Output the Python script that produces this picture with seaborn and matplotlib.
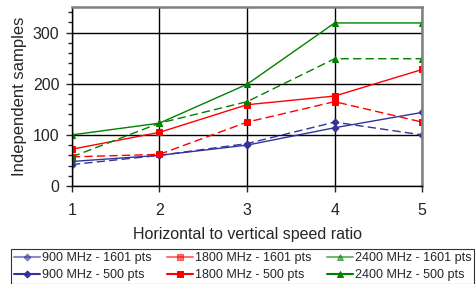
import matplotlib
matplotlib.use("Agg")
import matplotlib.pyplot as plt
import seaborn as sns
from matplotlib.ticker import MultipleLocator

sns.set_style("white")
plt.rcParams['font.family'] = ['Liberation Sans', 'DejaVu Sans']

# data
ratio = [1, 2, 3, 4, 5]
mhz900_1601 = [48, 60, 80, 114, 144]
mhz900_500 = [42, 60, 83, 125, 100]
mhz1800_1601 = [72, 105, 159, 176, 228]
mhz1800_500 = [57, 62, 125, 165, 125]
mhz2400_1601 = [100, 123, 199, 319, 319]
mhz2400_500 = [57, 123, 165, 249, 249]

series = [
    ("900 MHz - 1601 pts", mhz900_1601, "#333399", "D", "-", 3.5),
    ("900 MHz - 500 pts", mhz900_500, "#333399", "D", (0, (6, 3)), 3.5),
    ("1800 MHz - 1601 pts", mhz1800_1601, "#ff0000", "s", "-", 5),
    ("1800 MHz - 500 pts", mhz1800_500, "#ff0000", "s", (0, (6, 3)), 5),
    ("2400 MHz - 1601 pts", mhz2400_1601, "#008000", "^", "-", 5),
    ("2400 MHz - 500 pts", mhz2400_500, "#008000", "^", (0, (6, 3)), 5),
]

fig = plt.figure(figsize=(4.76, 2.84), dpi=100)
ax = fig.add_axes([0.151, 0.345, 0.736, 0.63])

for label, vals, col, mk, ls, ms in series:
    sns.lineplot(x=ratio, y=vals, ax=ax, color=col, marker=mk, linestyle=ls,
                 markersize=ms, markeredgecolor=col, linewidth=1.0, label=label)

ax.set_xlim(1, 5)
ax.set_ylim(0, 350)
ax.set_xticks(ratio)
ax.yaxis.set_major_locator(MultipleLocator(100))
ax.yaxis.set_minor_locator(MultipleLocator(20))
ax.grid(True, which='major', color='black', linewidth=1.0)
ax.set_axisbelow(True)
ax.tick_params(axis='both', which='major', labelsize=11.5, length=4, direction='out',
               left=True, bottom=True, width=1, pad=5)
ax.tick_params(axis='x', which='major', pad=8)
ax.tick_params(axis='y', which='minor', length=3, left=True, width=1)
ax.set_xlabel("Horizontal to vertical speed ratio", fontsize=11.5, labelpad=7)
ax.set_ylabel("Independent samples", fontsize=12, labelpad=4)
for s in ['top', 'right']:
    ax.spines[s].set_color('#808080')
    ax.spines[s].set_linewidth(1.8)
for s in ['left', 'bottom']:
    ax.spines[s].set_color('black')
    ax.spines[s].set_linewidth(1.0)

leg = ax.legend(loc='lower center', ncol=3,
                fontsize=9, frameon=True, fancybox=False, edgecolor='black',
                handlelength=2.1, handletextpad=0.15, columnspacing=1.2,
                labelspacing=0.4, borderpad=0.25, borderaxespad=0,
                bbox_to_anchor=(0.51, 0.0), bbox_transform=fig.transFigure)
leg.get_frame().set_linewidth(0.8)
for h, txt in zip(leg.get_lines(), leg.get_texts()):
    h.set_linestyle('-')
    h.set_linewidth(1.5)
    if "1601" in txt.get_text():
        h.set_alpha(0.55)

fig.savefig("out.png", dpi=100)
